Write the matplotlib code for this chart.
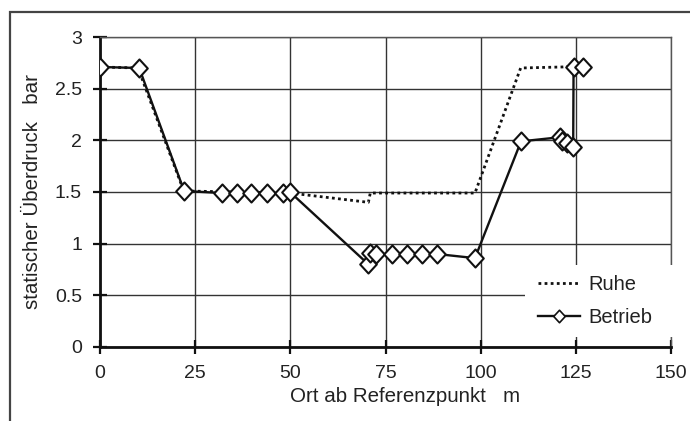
import matplotlib.pyplot as plt
from matplotlib.lines import Line2D
from matplotlib.patches import Rectangle
from matplotlib.path import Path

# Ruhe (static, dotted line)
ruhe_x = [0, 10, 22, 50, 70.5, 71, 98.5, 110.5, 121.5, 124.5]
ruhe_y = [2.71, 2.70, 1.51, 1.49, 1.40, 1.49, 1.49, 2.70, 2.71, 2.72]

# Betrieb (operation, solid line with diamonds)
betrieb_x = [0, 10.3, 22.1, 32.0, 35.9, 39.8, 43.8, 48.0, 49.9,
             70.5, 70.9, 72.5, 76.6, 80.6, 84.5, 88.5, 98.5,
             110.6, 120.8, 121.3, 122.6, 124.3, 124.4, 126.8]
betrieb_y = [2.71, 2.70, 1.51, 1.49, 1.49, 1.49, 1.49, 1.49, 1.50,
             0.80, 0.91, 0.90, 0.90, 0.90, 0.90, 0.90, 0.86,
             1.99, 2.03, 1.99, 1.97, 1.94, 2.71, 2.71]

x_ticks = [0, 25, 50, 75, 100, 125, 150]
y_ticks = [0, 0.5, 1, 1.5, 2, 2.5, 3]
y_tick_labels = ['0', '0.5', '1', '1.5', '2', '2.5', '3']

plt.rcParams['font.family'] = ['Liberation Sans', 'DejaVu Sans']
text_col = '#222222'
line_col = '#111111'
dots = (0, (1, 1.2))

# diamond marker, a touch taller than wide
diamond = Path([(0, 1), (0.92, 0), (0, -1), (-0.92, 0), (0, 1)],
               [Path.MOVETO, Path.LINETO, Path.LINETO, Path.LINETO,
                Path.CLOSEPOLY])

fig = plt.figure(figsize=(6.9, 4.21), dpi=100)
ax = fig.add_axes([0.1449, 0.1758, 0.8276, 0.7363])

# outer frame of the picture
fig.patches.append(Rectangle((10 / 690, -0.1), 1.2, 1 - 12 / 421 + 0.1,
                             transform=fig.transFigure, fill=False,
                             edgecolor='#444444', linewidth=1.6))

ax.plot(ruhe_x, ruhe_y, color=line_col, linestyle=dots,
        linewidth=2.0, zorder=3)
ax.plot(betrieb_x, betrieb_y, color=line_col, linewidth=1.7,
        marker=diamond, markersize=13, markerfacecolor='white',
        markeredgecolor=line_col, markeredgewidth=1.5, zorder=4)

ax.set_xlim(0, 150)
ax.set_ylim(0, 3)
ax.set_xticks(x_ticks)
ax.set_yticks(y_ticks)
ax.set_yticklabels(y_tick_labels)
ax.grid(True, color='#333333', linewidth=1.0)
ax.set_axisbelow(True)

for side in ['left', 'bottom']:
    ax.spines[side].set_linewidth(2.0)
    ax.spines[side].set_color(line_col)
for side in ['top', 'right']:
    ax.spines[side].set_linewidth(1.0)
    ax.spines[side].set_color('#555555')

ax.tick_params(axis='both', direction='inout', length=10, width=1.6,
               labelsize=14, labelcolor=text_col, color=line_col, pad=8)

ax.set_xlabel('Ort ab Referenzpunkt   m', fontsize=14.8, color=text_col)
ax.xaxis.set_label_coords(0.535, -0.128)
ax.set_ylabel('statischer Überdruck   bar', fontsize=14.8, color=text_col,
              labelpad=9)

# white patch behind the legend (covers grid and right border)
ax.add_patch(Rectangle((0.744, 0.032), 0.3, 0.233, transform=ax.transAxes,
                       facecolor='white', edgecolor='none', zorder=2.6,
                       clip_on=False))

handles = [
    Line2D([], [], color=line_col, linestyle=dots, linewidth=2.0),
    Line2D([], [], color=line_col, linewidth=1.7, marker=diamond,
           markersize=9, markerfacecolor='white', markeredgecolor=line_col,
           markeredgewidth=1.2),
]
leg = ax.legend(handles, ['Ruhe', 'Betrieb'], loc='center left',
                bbox_to_anchor=(0.767, 0.148), frameon=False, fontsize=14.5,
                handlelength=2.1, handletextpad=0.4, labelspacing=0.7,
                borderpad=0, borderaxespad=0)
leg.set_zorder(5)
for t in leg.get_texts():
    t.set_color(text_col)

fig.savefig('out.png', dpi=100)
